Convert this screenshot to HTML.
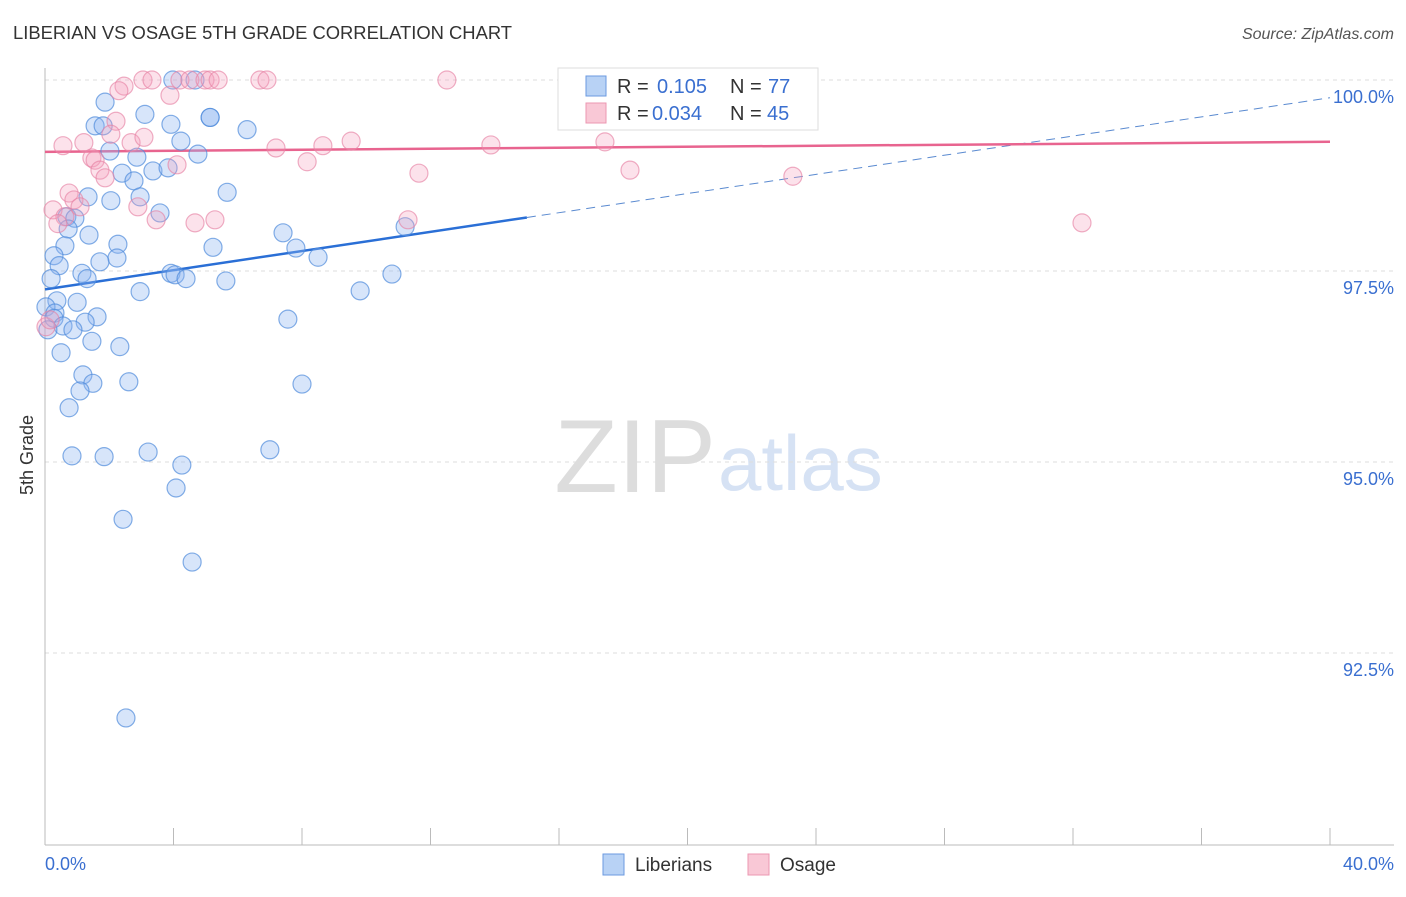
<!DOCTYPE html>
<html><head><meta charset="utf-8"><style>
body{margin:0;background:#fff;font-family:"Liberation Sans",sans-serif}
svg text{font-family:"Liberation Sans",sans-serif}
</style></head><body>
<svg id="chart" width="1406" height="892">
<text x="13" y="39" font-size="18.4" fill="#333">LIBERIAN VS OSAGE 5TH GRADE CORRELATION CHART</text>
<text x="1394" y="39" font-size="16" fill="#555" font-style="italic" text-anchor="end">Source: ZipAtlas.com</text>
<text x="33" y="455" font-size="18" fill="#333" transform="rotate(-90 33 455)" text-anchor="middle">5th Grade</text>
<text x="716" y="492" font-size="104" fill="#ddd" text-anchor="end" font-family="Liberation Serif">ZIP</text>
<text x="718" y="490" font-size="78" fill="#d6e2f4">atlas</text>
<g id="grid"></g><g id="axes"></g><g id="trend"></g><g id="pts"></g>
<g>
<rect x="558" y="68" width="260" height="62" fill="#fff" stroke="#ddd"/>
<rect x="586" y="76" width="20" height="20" fill="#b8d2f5" stroke="#6b9ae0"/>
<rect x="586" y="103" width="20" height="20" fill="#f9c8d6" stroke="#ec97b2"/>
<text x="617" y="93" font-size="20" fill="#333">R = </text><text x="657" y="93" font-size="20" fill="#3a6fd0">0.105</text>
<text x="730" y="93" font-size="20" fill="#333">N = </text><text x="768" y="93" font-size="20" fill="#3a6fd0">77</text>
<text x="617" y="120" font-size="20" fill="#333">R = </text><text x="652" y="120" font-size="20" fill="#3a6fd0">0.034</text>
<text x="730" y="120" font-size="20" fill="#333">N = </text><text x="767" y="120" font-size="20" fill="#3a6fd0">45</text>
</g>
<g>
<rect x="603" y="854" width="21" height="21" fill="#b8d2f5" stroke="#6b9ae0"/>
<text x="635" y="871" font-size="19" fill="#333">Liberians</text>
<rect x="748" y="854" width="21" height="21" fill="#f9c8d6" stroke="#ec97b2"/>
<text x="780" y="871" font-size="19" fill="#333">Osage</text>
</g>
<text x="45" y="870" font-size="18" fill="#3a6fd0">0.0%</text>
<text x="1394" y="870" font-size="18" fill="#3a6fd0" text-anchor="end">40.0%</text>
</svg>
<script>
const yTicks=[100,97.5,95,92.5];
const yTickLabels=["100.0%","97.5%","95.0%","92.5%"];
const xTicks=[0,4,8,12,16,20,24,28,32,36,40];
const blueX=[3.98,4.67,1.87,3.11,5.14,1.56,1.81,3.92,6.29,4.23,2.02,2.86,4.76,2.40,3.36,3.83,2.77,1.34,2.96,2.05,5.67,3.58,0.68,0.93,0.72,1.37,7.41,11.21,0.62,2.27,5.23,7.81,0.28,2.24,1.71,8.50,0.44,1.15,3.92,4.05,4.39,1.31,5.63,0.19,10.80,2.96,9.81,0.37,1.00,0.03,0.31,0.28,1.62,1.25,7.56,0.56,0.87,0.09,1.46,2.33,0.50,1.18,2.61,1.49,1.09,8.00,0.75,0.84,1.84,3.21,7.00,4.26,4.08,2.43,4.58,2.52,5.14];
const blueY=[100,100,99.71,99.55,99.51,99.40,99.40,99.42,99.35,99.20,99.07,98.99,99.03,98.78,98.81,98.85,98.68,98.47,98.47,98.42,98.53,98.26,98.21,98.19,98.05,97.97,98.00,98.08,97.83,97.85,97.81,97.80,97.70,97.67,97.62,97.68,97.57,97.47,97.47,97.45,97.40,97.40,97.37,97.40,97.46,97.23,97.24,97.11,97.09,97.03,96.95,96.88,96.90,96.83,96.87,96.78,96.73,96.73,96.58,96.51,96.43,96.14,96.05,96.03,95.93,96.02,95.71,95.08,95.07,95.13,95.16,94.96,94.66,94.25,93.69,91.65,99.51];
const pinkX=[2.46,2.30,3.89,3.05,3.33,4.20,4.51,4.98,5.14,5.39,6.69,6.91,12.51,22.69,0.56,1.21,2.21,2.05,2.68,3.08,1.46,1.56,1.71,1.87,4.11,7.19,8.65,9.53,8.16,11.64,13.88,17.43,18.21,23.28,0.75,0.90,1.09,0.25,0.62,0.40,2.89,3.46,4.67,5.29,11.30,32.28,0.03,0.16];
const pinkY=[99.92,99.86,99.80,100,100,100,100,100,100,100,100,100,100,100,99.14,99.18,99.46,99.29,99.18,99.25,98.98,98.95,98.82,98.72,98.89,99.11,99.14,99.20,98.93,98.78,99.15,99.19,98.82,98.74,98.52,98.43,98.34,98.30,98.21,98.12,98.34,98.17,98.13,98.17,98.17,98.13,96.77,96.86];
const blueTrend=[97.26,0.0627];
const pinkTrend=[99.06,0.0033];
const NS="http://www.w3.org/2000/svg";
const X=v=>45+v/40*1285, Y=v=>80+(100-v)*76.4;
function mk(tag,at,parent){const e=document.createElementNS(NS,tag);for(const k in at)e.setAttribute(k,at[k]);document.getElementById(parent).appendChild(e);return e;}
yTicks.forEach((t,i)=>{
 const l=mk('line',{x1:45,x2:1394,y1:Y(t),y2:Y(t),stroke:'#ddd','stroke-dasharray':'4 4'},'grid');
 
 
 const tx=mk('text',{x:1394,y:Y(t)+23,'font-size':18,fill:'#3a6fd0','text-anchor':'end'},'grid');
 tx.textContent=yTickLabels[i];
 
 
});
const ax=mk('line',{x1:45,x2:1394,y1:845,y2:845,stroke:'#bbb'},'axes');


const ay=mk('line',{x1:45,x2:45,y1:68,y2:845,stroke:'#bbb'},'axes');


xTicks.forEach(t=>{
 const l=mk('line',{x1:X(t),x2:X(t),y1:828,y2:845,stroke:'#bbb'},'axes');
 
 
});
function dot(x,y,fill,stroke,name){
 const c=mk('circle',{cx:X(x),cy:Y(y),r:9,fill:fill,stroke:stroke,'stroke-width':1.2},'pts');
 
 
}
blueX.forEach((x,i)=>dot(x,blueY[i],'rgba(140,180,240,0.35)','rgba(80,140,220,0.7)','liberian-point'));
pinkX.forEach((x,i)=>dot(x,pinkY[i],'rgba(245,160,190,0.3)','rgba(230,130,165,0.65)','osage-point'));
const bt=mk('line',{x1:X(0),y1:Y(blueTrend[0]),x2:X(15),y2:Y(blueTrend[0]+blueTrend[1]*15),stroke:'#2a6fd6','stroke-width':2.5},'trend');


const bd=mk('line',{x1:X(15),y1:Y(blueTrend[0]+blueTrend[1]*15),x2:X(40),y2:Y(blueTrend[0]+blueTrend[1]*40),stroke:'#5a8ad0','stroke-width':1,'stroke-dasharray':'9 6'},'trend');


const pt=mk('line',{x1:X(0),y1:Y(pinkTrend[0]),x2:X(40),y2:Y(pinkTrend[0]+pinkTrend[1]*40),stroke:'#e8648f','stroke-width':2.5},'trend');


</script>
</body></html>
